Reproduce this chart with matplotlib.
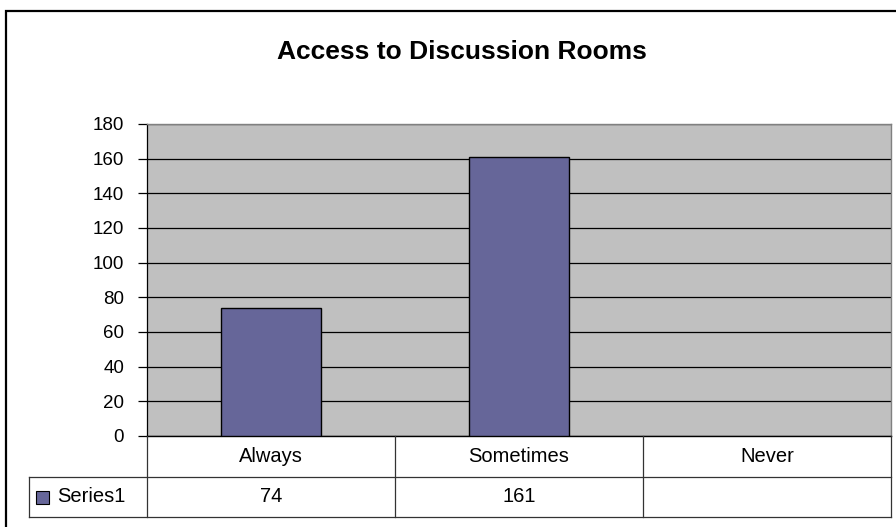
import matplotlib.pyplot as plt
from matplotlib.patches import Rectangle
from matplotlib.lines import Line2D

plt.rcParams['font.family'] = ['Liberation Sans', 'DejaVu Sans']

# data
categories = ['Always', 'Sometimes', 'Never']
values = [74, 161, None]
series_name = 'Series1'
yticks = [0, 20, 40, 60, 80, 100, 120, 140, 160, 180]

W, H = 896, 527
fig = plt.figure(figsize=(W / 100, H / 100), dpi=100)

def fx(px):
    return px / W

def fy(py):
    return 1 - py / H

# outer chart frame (runs off the right/bottom edge)
fig.patches.append(Rectangle((fx(6), -0.05), 1.2, fy(11) + 0.05, transform=fig.transFigure,
                             fill=False, edgecolor='black', linewidth=1.6))

left, right, top, bottom = 147, 891, 124, 436
ax = fig.add_axes([fx(left), fy(bottom), fx(right) - fx(left), fy(top) - fy(bottom)])
ax.set_facecolor('#C0C0C0')

xs = [i for i, v in enumerate(values) if v is not None]
ys = [v for v in values if v is not None]
ax.bar(xs, ys, width=0.4, color='#666699', edgecolor='black', linewidth=1.0, zorder=3)
ax.set_xlim(-0.5, len(categories) - 0.5)
ax.set_ylim(0, 180)
ax.set_yticks(yticks)
ax.set_xticks([])
ax.yaxis.grid(True, color='black', linewidth=0.9, zorder=1)
ax.set_axisbelow(True)
ax.tick_params(axis='y', length=6.5, width=0.9, labelsize=13.5, pad=10)
for s in ['top', 'right']:
    ax.spines[s].set_color('#808080')
    ax.spines[s].set_linewidth(1.0)
ax.spines['left'].set_linewidth(0.9)
ax.spines['bottom'].set_linewidth(1.0)

fig.text(fx(462), fy(52), 'Access to Discussion Rooms', ha='center', va='center',
         fontsize=19, fontweight='bold')

# data table under the plot
row1, row2 = 477, 517
tleft = 29
col_edges = [left + (right - left) * i / len(categories) for i in range(len(categories) + 1)]
lc = '#333333'
def hline(y, x0, x1):
    fig.add_artist(Line2D([fx(x0), fx(x1)], [fy(y), fy(y)], transform=fig.transFigure,
                          color=lc, linewidth=0.9))
def vline(x, y0, y1):
    fig.add_artist(Line2D([fx(x), fx(x)], [fy(y0), fy(y1)], transform=fig.transFigure,
                          color=lc, linewidth=0.9))

hline(row1, tleft, right)
hline(row2, tleft, right)
vline(tleft, row1, row2)
for xe in col_edges:
    vline(xe, bottom, row2)

for i, cat in enumerate(categories):
    cx = (col_edges[i] + col_edges[i + 1]) / 2
    fig.text(fx(cx), fy((bottom + row1) / 2), cat, ha='center', va='center', fontsize=14.5)
    if values[i] is not None:
        fig.text(fx(cx), fy((row1 + row2) / 2), str(values[i]), ha='center', va='center', fontsize=14.5)

fig.patches.append(Rectangle((fx(36), fy(504)), fx(13), fy(491) - fy(504), transform=fig.transFigure,
                             facecolor='#666699', edgecolor='black', linewidth=0.8))
fig.text(fx(57), fy((row1 + row2) / 2), series_name, ha='left', va='center', fontsize=14.5)

fig.savefig('out.png', dpi=100)
